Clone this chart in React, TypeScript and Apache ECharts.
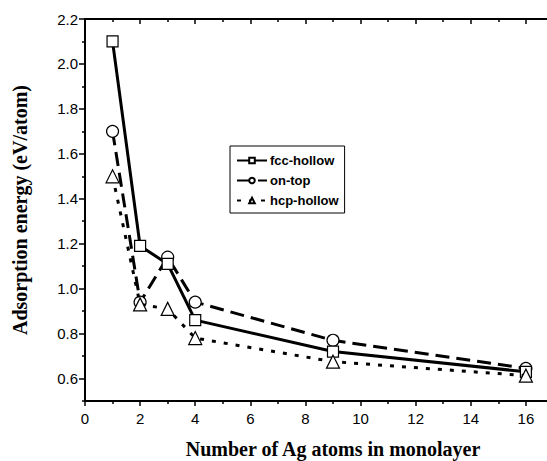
import React, { useEffect, useRef } from "react";
import * as echarts from "echarts";

const xValues = [1, 2, 3, 4, 9, 16];
const fccHollow = [2.1, 1.19, 1.11, 0.86, 0.72, 0.63];
const onTop = [1.7, 0.94, 1.14, 0.94, 0.77, 0.645];
const hcpHollow = [1.5, 0.93, 0.91, 0.78, 0.675, 0.613];
const xTickLabels = [0, 2, 4, 6, 8, 10, 12, 14, 16];
const yMajorTicks = [0.6, 0.8, 1.0, 1.2, 1.4, 1.6, 1.8, 2.0, 2.2];
const yMinorTicks = [0.5, 0.7, 0.9, 1.1, 1.3, 1.5, 1.7, 1.9, 2.1];

const pairs = (ys: number[]) => xValues.map((x, i) => [x, ys[i]]);

export default function App() {
  const ref = useRef<HTMLDivElement>(null);
  useEffect(() => {
    document.body.style.margin = "0";
    const chart = echarts.init(ref.current!, null, { renderer: "svg" });
    const axisLine = { show: true, lineStyle: { color: "#000", width: 2 } };
    const sym = {
      itemStyle: { color: "#fff", borderColor: "#000", borderWidth: 1.2 },
    };
    chart.setOption({
      animation: false,
      backgroundColor: "#fff",
      grid: { left: 85, top: 19, width: 496, height: 382, outerBoundsMode: "none", containLabel: false },
      legend: {
        left: 230,
        top: 146,
        orient: "vertical",
        borderColor: "#000",
        borderWidth: 1,
        padding: [8, 6, 6, 6],
        itemGap: 7,
        itemWidth: 30,
        itemHeight: 7,
        textStyle: {
          fontFamily: "Liberation Sans, Arial, sans-serif",
          fontWeight: "bold",
          fontSize: 13,
          color: "#000",
          padding: [0, 0, 0, -2],
        },
        data: ["fcc-hollow", "on-top", "hcp-hollow"],
      },
      xAxis: [
        {
          type: "value",
          min: 0,
          max: 18,
          interval: 2,
          position: "bottom",
          name: "Number of Ag atoms in monolayer",
          nameLocation: "middle",
          nameGap: 38,
          nameTextStyle: {
            fontFamily: "Liberation Serif, Times New Roman, serif",
            fontWeight: "bold",
            fontSize: 20,
            color: "#000",
          },
          axisLine: { ...axisLine, onZero: false },
          axisTick: { show: true, length: 5, inside: false, lineStyle: { color: "#000", width: 1.5 } },
          minorTick: { show: true, splitNumber: 2, length: 3, lineStyle: { color: "#000", width: 1.5 } },
          axisLabel: {
            customValues: xTickLabels,
            fontFamily: "Liberation Sans, Arial, sans-serif",
            fontSize: 15,
            color: "#000",
            margin: 10,
          },
          splitLine: { show: false },
        },
        {
          type: "value",
          min: 0,
          max: 18,
          interval: 2,
          position: "top",
          axisLine: { ...axisLine, onZero: false },
          axisTick: { show: true, length: 5, inside: true, lineStyle: { color: "#000", width: 1.5 } },
          minorTick: { show: true, splitNumber: 2, length: 3, lineStyle: { color: "#000", width: 1.5 } },
          axisLabel: { show: false },
          splitLine: { show: false },
        },
      ],
      yAxis: [
        {
          type: "value",
          min: 0.5,
          max: 2.2,
          position: "left",
          name: "Adsorption energy (eV/atom)",
          nameLocation: "middle",
          nameGap: 55,
          nameTextStyle: {
            fontFamily: "Liberation Serif, Times New Roman, serif",
            fontWeight: "bold",
            fontSize: 20,
            color: "#000",
          },
          axisLine: { ...axisLine, onZero: false },
          axisTick: {
            show: true,
            length: 6,
            customValues: yMajorTicks,
            lineStyle: { color: "#000", width: 1.5 },
          },
          axisLabel: {
            customValues: yMajorTicks,
            formatter: (v: number) => v.toFixed(1),
            fontFamily: "Liberation Sans, Arial, sans-serif",
            fontSize: 15,
            color: "#000",
            margin: 7,
          },
          splitLine: { show: false },
        },
        {
          type: "value",
          min: 0.5,
          max: 2.2,
          position: "left",
          axisLine: { show: false },
          axisTick: {
            show: true,
            length: 3,
            customValues: yMinorTicks,
            lineStyle: { color: "#000", width: 1.5 },
          },
          axisLabel: { show: false },
          splitLine: { show: false },
        },
      ],
      series: [
        {
          name: "fcc-hollow",
          type: "line",
          data: pairs(fccHollow),
          symbol: "rect",
          symbolSize: 11,
          lineStyle: { color: "#000", width: 3, type: "solid" },
          ...sym,
          z: 3,
        },
        {
          name: "on-top",
          type: "line",
          data: pairs(onTop),
          symbol: "circle",
          symbolSize: 12,
          lineStyle: { color: "#000", width: 3, type: [14, 7] },
          ...sym,
          z: 2,
        },
        {
          name: "hcp-hollow",
          type: "line",
          data: pairs(hcpHollow),
          symbol: "triangle",
          symbolSize: 13,
          lineStyle: { color: "#000", width: 3, type: [4, 8] },
          ...sym,
          z: 4,
        },
      ],
    });
    return () => chart.dispose();
  }, []);
  return <div ref={ref} style={{ width: 547, height: 461 }} />;
}
